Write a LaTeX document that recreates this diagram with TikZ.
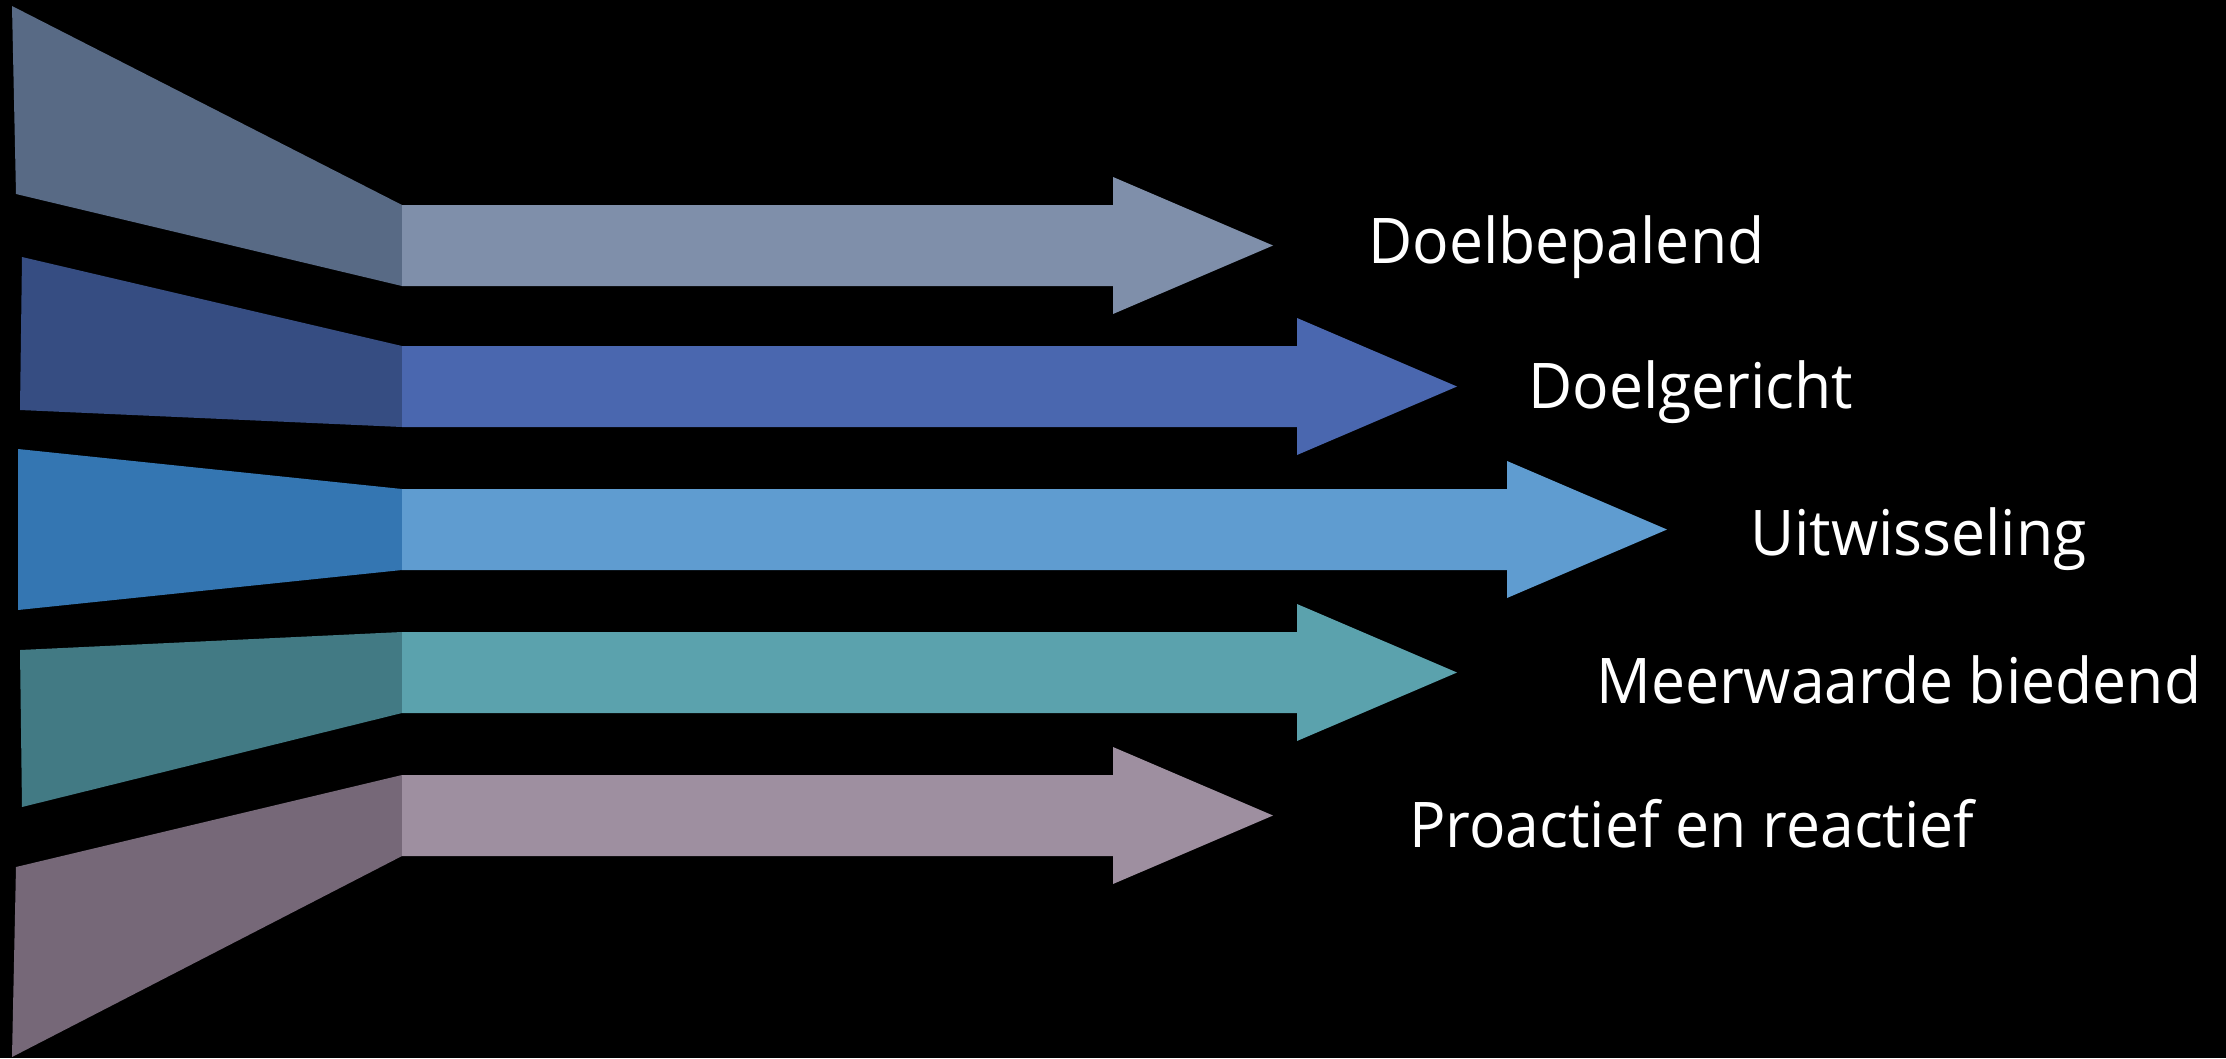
\documentclass[tikz,border=0pt]{standalone}
\usepackage{fontspec}
\setmainfont{Open Sans}
\definecolor{trA}{RGB}{88,106,133}
\definecolor{arA}{RGB}{127,143,170}
\definecolor{trB}{RGB}{54,77,130}
\definecolor{arB}{RGB}{74,103,175}
\definecolor{trC}{RGB}{52,118,178}
\definecolor{arC}{RGB}{95,156,208}
\definecolor{trD}{RGB}{66,122,132}
\definecolor{arD}{RGB}{91,162,173}
\definecolor{trE}{RGB}{118,104,120}
\definecolor{arE}{RGB}{158,143,160}
\newcommand{\myarrow}[5]{% color, top, bottom, shaftend, tip
  \pgfmathsetmacro{\mid}{(#2+#3)/2}
  \pgfmathsetmacro{\htop}{#2-28}
  \pgfmathsetmacro{\hbot}{#3+28}
  \fill[#1] (402,#2) -- (#4,#2) -- (#4,\htop) -- (#5,\mid) -- (#4,\hbot) -- (#4,#3) -- (402,#3) -- cycle;}
\newcommand{\lbltext}[1]{\scalebox{0.963}[1]{#1}}
\tikzset{lbl/.style={anchor=base west, inner sep=0pt, text=white, font=\fontsize{63}{70}\selectfont}}
\begin{document}
\begin{tikzpicture}[x=1pt,y=-1pt]
\fill[black] (0,0) rectangle (2226,1058);
\useasboundingbox (0,0) rectangle (2226,1058);
% funnel trapezoids
\fill[trA] (12,6) -- (402,205) -- (402,286) -- (16,194) -- cycle;
\fill[trB] (22,257) -- (402,346) -- (402,427) -- (20,410) -- cycle;
\fill[trC] (18,449) -- (402,489) -- (402,570) -- (18,610) -- cycle;
\fill[trD] (20,650) -- (402,632) -- (402,713) -- (22,807) -- cycle;
\fill[trE] (16,867) -- (402,775) -- (402,856) -- (12,1057) -- cycle;
% arrows
\myarrow{arA}{205}{286}{1113}{1273}
\myarrow{arB}{346}{427}{1297}{1457}
\myarrow{arC}{489}{570}{1507}{1667}
\myarrow{arD}{632}{713}{1297}{1457}
\myarrow{arE}{775}{856}{1113}{1273}
% labels
\node[lbl] (l1) at (1368,263) {\lbltext{Doelbepalend}};
\node[lbl] (l2) at (1528,408) {\lbltext{Doelgericht}};
\node[lbl] (l3) at (1750,555) {\lbltext{Uitwisseling}};
\node[lbl] (l4) at (1596,703) {\lbltext{Meerwaarde biedend}};
\node[lbl] (l5) at (1409,847) {\lbltext{Proactief en reactief}};
\end{tikzpicture}
\end{document}
